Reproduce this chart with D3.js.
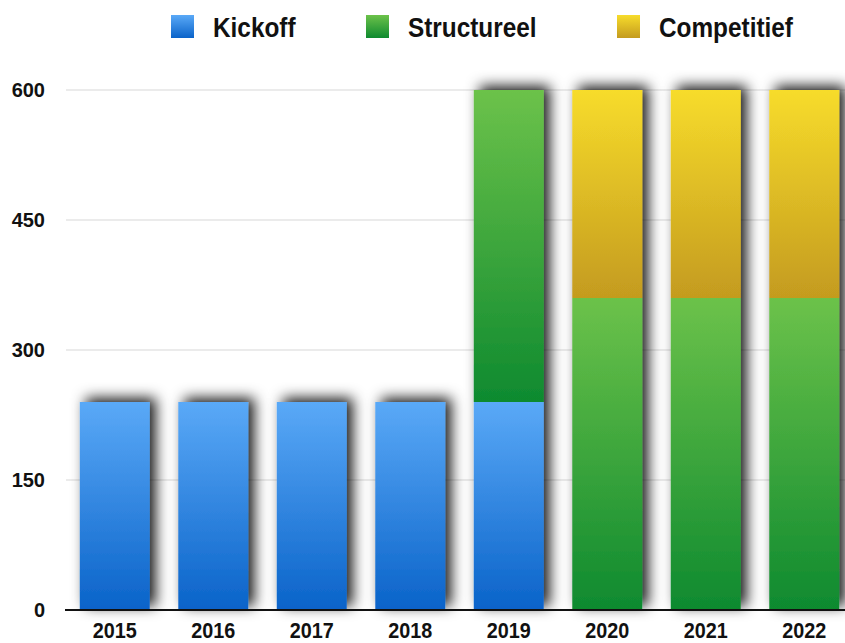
<!DOCTYPE html>
<html>
<head>
<meta charset="utf-8">
<script src="https://cdn.jsdelivr.net/npm/d3@7"></script>
<style>
  body { margin: 0; background: #fff; }
  text { font-family: "Liberation Sans", Arial, sans-serif; font-weight: bold; fill: #111; }
</style>
</head>
<body>
<script>
// chart data
var years = ["2015", "2016", "2017", "2018", "2019", "2020", "2021", "2022"];
var kickoff = [240, 240, 240, 240, 240, 0, 0, 0];
var structureel = [0, 0, 0, 0, 360, 360, 360, 360];
var competitief = [0, 0, 0, 0, 0, 240, 240, 240];
var seriesNames = ["Kickoff", "Structureel", "Competitief"];
var yTicks = [0, 150, 300, 450, 600];

var w = 845;
var h = 643;

// colours of each series (top, bottom of the gradient)
var colors = {
  Kickoff: ["#5aa9f7", "#0a63c9"],
  Structureel: ["#6cc24a", "#0e8a2f"],
  Competitief: ["#f7dc2b", "#c49b1f"]
};

var svg = d3.select("body")
  .append("svg")
  .attr("width", w)
  .attr("height", h);

var defs = svg.append("defs");

seriesNames.forEach(function(name) {
  var grad = defs.append("linearGradient")
    .attr("id", "grad-" + name)
    .attr("x1", 0).attr("y1", 0)
    .attr("x2", 0).attr("y2", 1);
  grad.append("stop").attr("offset", "0%").attr("stop-color", colors[name][0]);
  grad.append("stop").attr("offset", "100%").attr("stop-color", colors[name][1]);
});

// shadow behind bars
var shadow = defs.append("filter")
  .attr("id", "shadow")
  .attr("x", "-40%").attr("y", "-15%")
  .attr("width", "190%").attr("height", "130%");
shadow.append("feDropShadow")
  .attr("dx", 6)
  .attr("dy", -4)
  .attr("stdDeviation", 7)
  .attr("flood-color", "#000")
  .attr("flood-opacity", 0.9);

var xScale = d3.scaleBand()
  .domain(years)
  .range([66, 853])
  .paddingInner(0.29)
  .paddingOuter(0.14);

var yScale = d3.scaleLinear()
  .domain([0, 600])
  .range([610, 90]);

// gridlines
svg.append("g")
  .selectAll("line")
  .data(yTicks.slice(1))
  .enter()
  .append("line")
  .attr("x1", 66)
  .attr("x2", w)
  .attr("y1", function(d) { return yScale(d); })
  .attr("y2", function(d) { return yScale(d); })
  .attr("stroke", "#ebebeb")
  .attr("stroke-width", 2);

// stack the series
var table = years.map(function(y, i) {
  return { year: y, Kickoff: kickoff[i], Structureel: structureel[i], Competitief: competitief[i] };
});
var stacked = d3.stack().keys(seriesNames)(table);

// one group per year so the shadow goes around the whole bar
var bars = svg.append("g")
  .selectAll("g")
  .data(table)
  .enter()
  .append("g")
  .attr("filter", "url(#shadow)");

bars.each(function(d, i) {
  var g = d3.select(this);
  stacked.forEach(function(layer) {
    var seg = layer[i];
    if (seg[1] - seg[0] <= 0) return;
    g.append("rect")
      .attr("x", xScale(d.year))
      .attr("width", xScale.bandwidth())
      .attr("y", yScale(seg[1]))
      .attr("height", yScale(seg[0]) - yScale(seg[1]))
      .attr("fill", "url(#grad-" + layer.key + ")");
  });
});

// y axis labels
var yAxis = svg.append("g")
  .attr("transform", "translate(45,0)")
  .call(d3.axisLeft(yScale).tickValues(yTicks).tickSize(0).tickPadding(0));
yAxis.select(".domain").remove();
yAxis.selectAll("text")
  .style("font-size", "20px")
  .style("font-family", "Liberation Sans, Arial, sans-serif")
  .style("font-weight", "bold")
  .attr("fill", "#111");

// x axis
var xAxis = svg.append("g")
  .attr("transform", "translate(0,610)")
  .call(d3.axisBottom(xScale).tickSize(0).tickPadding(12));
xAxis.select(".domain").remove();
xAxis.append("line")
  .attr("x1", 65)
  .attr("x2", w)
  .attr("stroke", "#111")
  .attr("stroke-width", 2);
xAxis.selectAll("text")
  .style("font-size", "22px")
  .style("font-family", "Liberation Sans, Arial, sans-serif")
  .style("font-weight", "bold")
  .attr("transform", "scale(0.9,1)")
  .attr("fill", "#111");

// legend
var legendX = [171, 366, 617];
var legenda = svg.selectAll(".legenda")
  .data(seriesNames)
  .enter().append("g")
  .attr("class", "legenda")
  .attr("transform", function(d, i) {
    return "translate(" + legendX[i] + ",15)";
  });

legenda.append("rect")
  .attr("width", 23)
  .attr("height", 23)
  .attr("fill", function(d) { return "url(#grad-" + d + ")"; });

legenda.append("text")
  .attr("transform", "translate(42,22) scale(0.87,1)")
  .style("font-size", "28px")
  .text(function(d) { return d; });
</script>
</body>
</html>
